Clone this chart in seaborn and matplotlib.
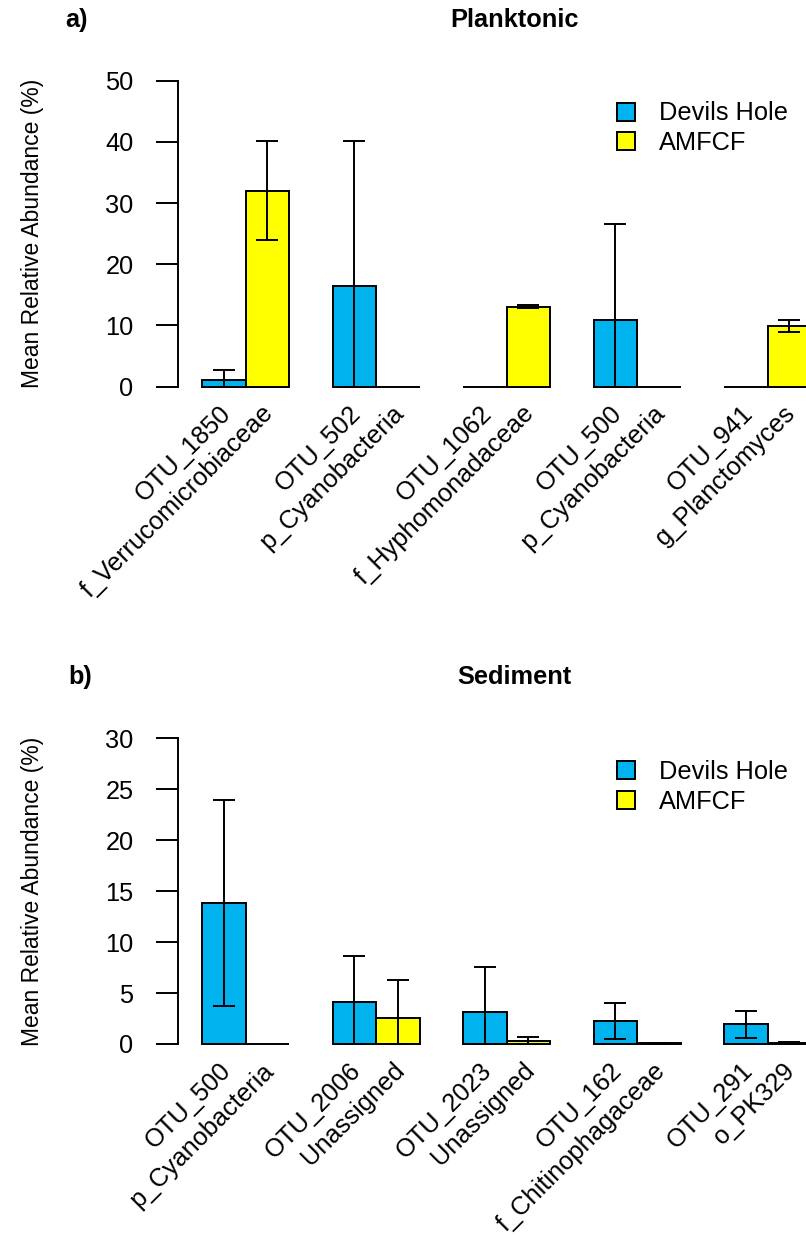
# %%
# import libraries
import matplotlib.pyplot as plt
import numpy as np
import pandas as pd
import seaborn as sns
from matplotlib.patches import Patch

# %%
# data (mean relative abundance and SD, %)
sites = ["Devils Hole", "AMFCF"]
site_colors = ["#00B2EE", "#FFFF00"]

plank_otus = ["OTU_1850", "OTU_502", "OTU_1062", "OTU_500", "OTU_941"]
plank_taxa = ["f_Verrucomicrobiaceae", "p_Cyanobacteria", "f_Hyphomonadaceae",
              "p_Cyanobacteria", "g_Planctomyces"]
plank_dh_mean = [1.1, 16.5, 0.0, 10.95, 0.0]
plank_dh_sd = [1.7, 23.6, 0.0, 15.65, 0.0]
plank_amf_mean = [32.0, 0.0, 13.07, 0.0, 9.9]
plank_amf_sd = [8.1, 0.0, 0.2, 0.0, 0.95]

sed_otus = ["OTU_500", "OTU_2006", "OTU_2023", "OTU_162", "OTU_291"]
sed_taxa = ["p_Cyanobacteria", "Unassigned", "Unassigned",
            "f_Chitinophagaceae", "o_PK329"]
sed_dh_mean = [13.8, 4.15, 3.11, 2.26, 1.93]
sed_dh_sd = [10.1, 4.5, 4.42, 1.8, 1.3]
sed_amf_mean = [0.0, 2.52, 0.33, 0.05, 0.1]
sed_amf_sd = [0.0, 3.76, 0.39, 0.05, 0.1]

# %%
sns.set_style("white")
plt.rcParams["font.family"] = ["Liberation Sans", "DejaVu Sans"]
plt.rcParams["text.color"] = "black"
plt.rcParams["axes.labelcolor"] = "black"
plt.rcParams["ytick.color"] = "black"
FS = 18.3      # ticks, names, legend, titles
FS_LAB = 16.5  # y axis title
LW = 1.4

W, H = 806, 1241
fig = plt.figure(figsize=(W / 100, H / 100), dpi=100)


def draw_panel(ax, otus, taxa, dh_mean, dh_sd, amf_mean, amf_sd, ymax, step):
    df = pd.DataFrame({
        "otu": otus * 2,
        "site": [sites[0]] * len(otus) + [sites[1]] * len(otus),
        "mean": dh_mean + amf_mean,
    })
    sns.barplot(data=df, x="otu", y="mean", hue="site", hue_order=sites,
                palette=site_colors, width=2 / 3, saturation=1, errorbar=None,
                edgecolor="black", linewidth=LW, legend=False, ax=ax)

    # error bars (lower arm stops at zero, like the original)
    for cont, sds in zip(ax.containers, [dh_sd, amf_sd]):
        for bar, sd in zip(cont, sds):
            if sd <= 0:
                continue
            h = bar.get_height()
            ax.errorbar(bar.get_x() + bar.get_width() / 2, h,
                        yerr=[[min(sd, h)], [sd]], fmt="none", ecolor="black",
                        elinewidth=LW, capsize=7.9, capthick=LW, zorder=5)

    ax.set_xlim(-0.52, len(otus) - 0.48)
    ax.set_ylim(-ymax * 0.04, ymax * 1.04)
    ax.set_yticks(np.arange(0, ymax + 0.1, step))
    ax.set_xlabel("")
    ax.set_ylabel("Mean Relative Abundance (%)", fontsize=FS_LAB)
    ax.yaxis.set_label_coords(-0.203, 0.5)
    ax.tick_params(axis="y", labelsize=FS, length=15.8, width=LW, pad=16,
                   direction="out", left=True)
    ax.tick_params(axis="x", bottom=False, labelbottom=False)
    for s in ["top", "right", "bottom"]:
        ax.spines[s].set_visible(False)
    ax.spines["left"].set_bounds(0, ymax)
    ax.spines["left"].set_linewidth(LW)
    ax.spines["left"].set_color("black")

    # two-line rotated category labels
    for i, (otu, tax) in enumerate(zip(otus, taxa)):
        ax.annotate(otu, xy=(i, 0), xytext=(-10, -20), textcoords="offset points",
                    rotation=45, ha="right", va="baseline", rotation_mode="anchor",
                    fontsize=FS, annotation_clip=False)
        ax.annotate(tax, xy=(i, 0), xytext=(21, -20), textcoords="offset points",
                    rotation=45, ha="right", va="baseline", rotation_mode="anchor",
                    fontsize=FS, annotation_clip=False)

    handles = [Patch(facecolor=c, edgecolor="black", linewidth=LW, label=s)
               for c, s in zip(site_colors, sites)]
    return handles


legend_kw = dict(loc="upper left", frameon=False, fontsize=FS, handlelength=0.72,
                 handleheight=0.72, handletextpad=0.95, labelspacing=0.22,
                 borderpad=0, borderaxespad=0)

# %%
# a) Planktonic
ax_a = fig.add_axes([177.7 / W, 1 - 398.9 / H, 657.8 / W, 330.4 / H])
handles = draw_panel(ax_a, plank_otus, plank_taxa, plank_dh_mean, plank_dh_sd,
                     plank_amf_mean, plank_amf_sd, 50, 10)
fig.legend(handles=handles, bbox_to_anchor=(617 / W, 1 - 101.5 / H), **legend_kw)
fig.text(77 / W, 1 - 20 / H, "a)", fontsize=FS, fontweight="bold", ha="center", va="center")
fig.text(514 / W, 1 - 20 / H, "Planktonic", fontsize=FS, fontweight="bold",
         ha="center", va="center")

# b) Sediment
ax_b = fig.add_axes([177.7 / W, 1 - 1056.2 / H, 657.8 / W, 330.1 / H])
handles = draw_panel(ax_b, sed_otus, sed_taxa, sed_dh_mean, sed_dh_sd,
                     sed_amf_mean, sed_amf_sd, 30, 5)
fig.legend(handles=handles, bbox_to_anchor=(617 / W, 1 - 760 / H), **legend_kw)
fig.text(80 / W, 1 - 677 / H, "b)", fontsize=FS, fontweight="bold", ha="center", va="center")
fig.text(514 / W, 1 - 677 / H, "Sediment", fontsize=FS, fontweight="bold",
         ha="center", va="center")

fig.savefig("out.png", dpi=100)
